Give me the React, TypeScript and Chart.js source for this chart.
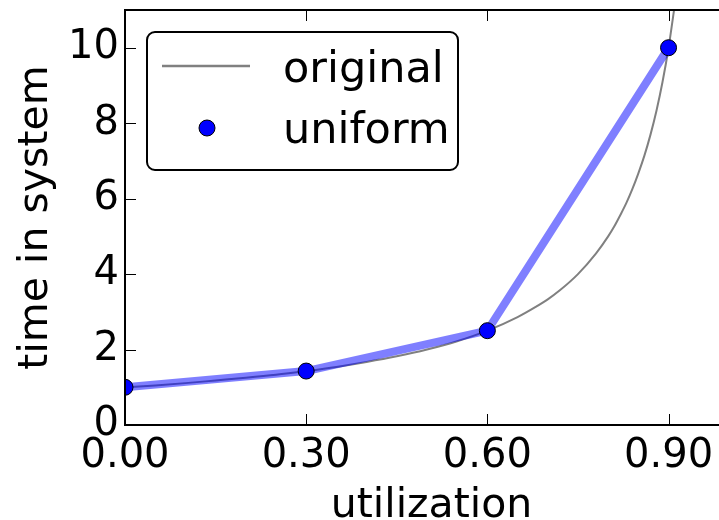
import React, { useEffect, useRef } from "react";
import { Chart, registerables } from "chart.js";

Chart.register(...registerables);

// "original" curve
const originalU = [0, 0.05, 0.1, 0.15, 0.2, 0.25, 0.3, 0.35, 0.4, 0.45, 0.5, 0.55, 0.6, 0.65, 0.68, 0.7, 0.72, 0.75, 0.78, 0.8, 0.81, 0.82, 0.83, 0.84, 0.85, 0.86, 0.87, 0.88, 0.89, 0.9, 0.91];
const originalT = [1.0, 1.05, 1.11, 1.18, 1.25, 1.33, 1.43, 1.54, 1.67, 1.82, 2.0, 2.22, 2.5, 2.86, 3.13, 3.33, 3.57, 4.0, 4.55, 5.0, 5.26, 5.56, 5.88, 6.25, 6.67, 7.14, 7.69, 8.33, 9.09, 10.0, 11.1];

// "uniform" samples
const uniformU = [0, 0.3, 0.6, 0.9];
const uniformT = [1.0, 1.43, 2.5, 10.0];

const xTicks = [0, 0.3, 0.6, 0.9];
const yTicks = [0, 2, 4, 6, 8, 10];
const xRange = [0, 1.015];
const yRange = [0, 11];

const legendLabels = ["original", "uniform"];
const xTitle = "utilization";
const yTitle = "time in system";

const FONT = "'DejaVu Sans', sans-serif";

export default function App() {
  const ref = useRef<HTMLCanvasElement>(null);

  useEffect(() => {
    const canvas = ref.current;
    if (!canvas) return;

    const framePlugin = {
      id: "frameTicks",
      beforeDatasetDraw(chart: any) {
        const { ctx, chartArea: a } = chart;
        ctx.save();
        ctx.beginPath();
        ctx.rect(a.left, a.top, a.right - a.left, a.bottom - a.top);
        ctx.clip();
      },
      afterDatasetDraw(chart: any) {
        chart.ctx.restore();
      },
      afterDatasetsDraw(chart: any) {
        const { ctx, chartArea: a, scales } = chart;
        ctx.save();
        ctx.strokeStyle = "#000";
        ctx.lineWidth = 1;
        ctx.beginPath();
        for (const v of xTicks) {
          const px = Math.round(scales.x.getPixelForValue(v)) + 0.5;
          ctx.moveTo(px, a.bottom);
          ctx.lineTo(px, a.bottom - 11);
          ctx.moveTo(px, a.top);
          ctx.lineTo(px, a.top + 11);
        }
        for (const v of yTicks) {
          const py = Math.round(scales.y.getPixelForValue(v)) + 0.5;
          ctx.moveTo(a.left, py);
          ctx.lineTo(a.left + 11, py);
          ctx.moveTo(a.right, py);
          ctx.lineTo(a.right - 11, py);
        }
        ctx.stroke();
        ctx.lineWidth = 2;
        ctx.strokeRect(a.left, a.top, a.right - a.left, a.bottom - a.top);
        ctx.restore();
      },
      afterDraw(chart: any) {
        const { ctx } = chart;
        ctx.save();
        // legend box
        const bx = 147, by = 32, bw = 311, bh = 138, r = 8;
        ctx.beginPath();
        ctx.moveTo(bx + r, by);
        ctx.arcTo(bx + bw, by, bx + bw, by + bh, r);
        ctx.arcTo(bx + bw, by + bh, bx, by + bh, r);
        ctx.arcTo(bx, by + bh, bx, by, r);
        ctx.arcTo(bx, by, bx + bw, by, r);
        ctx.closePath();
        ctx.fillStyle = "#fff";
        ctx.fill();
        ctx.lineWidth = 2;
        ctx.strokeStyle = "#000";
        ctx.stroke();
        // entry 1: gray line
        ctx.beginPath();
        ctx.moveTo(162, 66);
        ctx.lineTo(250, 66);
        ctx.strokeStyle = "#808080";
        ctx.lineWidth = 2.5;
        ctx.stroke();
        // entry 2: marker
        ctx.beginPath();
        ctx.arc(207, 128, 8, 0, Math.PI * 2);
        ctx.fillStyle = "#0000ff";
        ctx.fill();
        ctx.lineWidth = 1;
        ctx.strokeStyle = "#000";
        ctx.stroke();
        // texts
        ctx.fillStyle = "#000";
        ctx.font = "43px " + FONT;
        ctx.textAlign = "left";
        ctx.textBaseline = "alphabetic";
        ctx.fillText(legendLabels[0], 283, 82);
        ctx.fillText(legendLabels[1], 283, 143);
        ctx.restore();
      },
    };

    const chart = new Chart(canvas, {
      type: "scatter",
      data: {
        datasets: [
          {
            label: legendLabels[1],
            data: uniformU.map((u, i) => ({ x: u, y: uniformT[i] })),
            showLine: false,
            pointRadius: 8,
            pointHoverRadius: 8,
            pointBackgroundColor: "#0000ff",
            pointBorderColor: "#000",
            pointBorderWidth: 1,
            clip: 0,
          },
          {
            label: "uniform line",
            data: uniformU.map((u, i) => ({ x: u, y: uniformT[i] })),
            showLine: true,
            pointRadius: 0,
            borderColor: "rgba(0,0,255,0.5)",
            borderWidth: 8,
            borderJoinStyle: "round",
            clip: 0,
          },
          {
            label: legendLabels[0],
            data: originalU.map((u, i) => ({ x: u, y: originalT[i] })),
            showLine: true,
            pointRadius: 0,
            borderColor: "#808080",
            borderWidth: 2,
            cubicInterpolationMode: "monotone",
            clip: 0,
          },
        ],
      },
      options: {
        responsive: false,
        animation: false,
        devicePixelRatio: 1,
        events: [],
        layout: { padding: { top: 10, left: 0, right: 42, bottom: 0 } },
        plugins: { legend: { display: false }, tooltip: { enabled: false } },
        scales: {
          x: {
            type: "linear",
            min: xRange[0],
            max: xRange[1],
            grid: { display: false, drawTicks: false },
            border: { display: false },
            afterBuildTicks: (s: any) => {
              s.ticks = xTicks.map((v) => ({ value: v }));
            },
            afterFit: (s: any) => {
              s.height = 95;
              s.paddingLeft = 0;
              s.paddingRight = 0;
            },
            ticks: {
              autoSkip: false,
              maxRotation: 0,
              padding: 8,
              color: "#000",
              font: { family: FONT, size: 40 },
              callback: (v: any) => Number(v).toFixed(2),
            },
            title: {
              display: true,
              text: xTitle,
              color: "#000",
              font: { family: FONT, size: 41, lineHeight: 0.6 },
              padding: { top: 0, bottom: 1 },
            },
          },
          y: {
            type: "linear",
            min: yRange[0],
            max: yRange[1],
            grid: { display: false, drawTicks: false },
            border: { display: false },
            afterBuildTicks: (s: any) => {
              s.ticks = yTicks.map((v) => ({ value: v }));
            },
            afterFit: (s: any) => {
              s.width = 125;
              s.paddingTop = 0;
              s.paddingBottom = 0;
            },
            ticks: {
              autoSkip: false,
              padding: 6,
              color: "#000",
              font: { family: FONT, size: 40 },
              callback: (v: any) => String(v),
            },
            title: {
              display: true,
              text: yTitle,
              color: "#000",
              font: { family: FONT, size: 41, lineHeight: 1.2 },
              padding: { top: 12, bottom: 0 },
            },
          },
        },
      },
      plugins: [framePlugin],
    } as any);

    return () => chart.destroy();
  }, []);

  return (
    <div
      style={{
        position: "fixed",
        left: 0,
        top: 0,
        width: 719,
        height: 520,
        overflow: "hidden",
        background: "#fff",
      }}
    >
      <canvas ref={ref} width={780} height={520} style={{ display: "block" }} />
    </div>
  );
}
